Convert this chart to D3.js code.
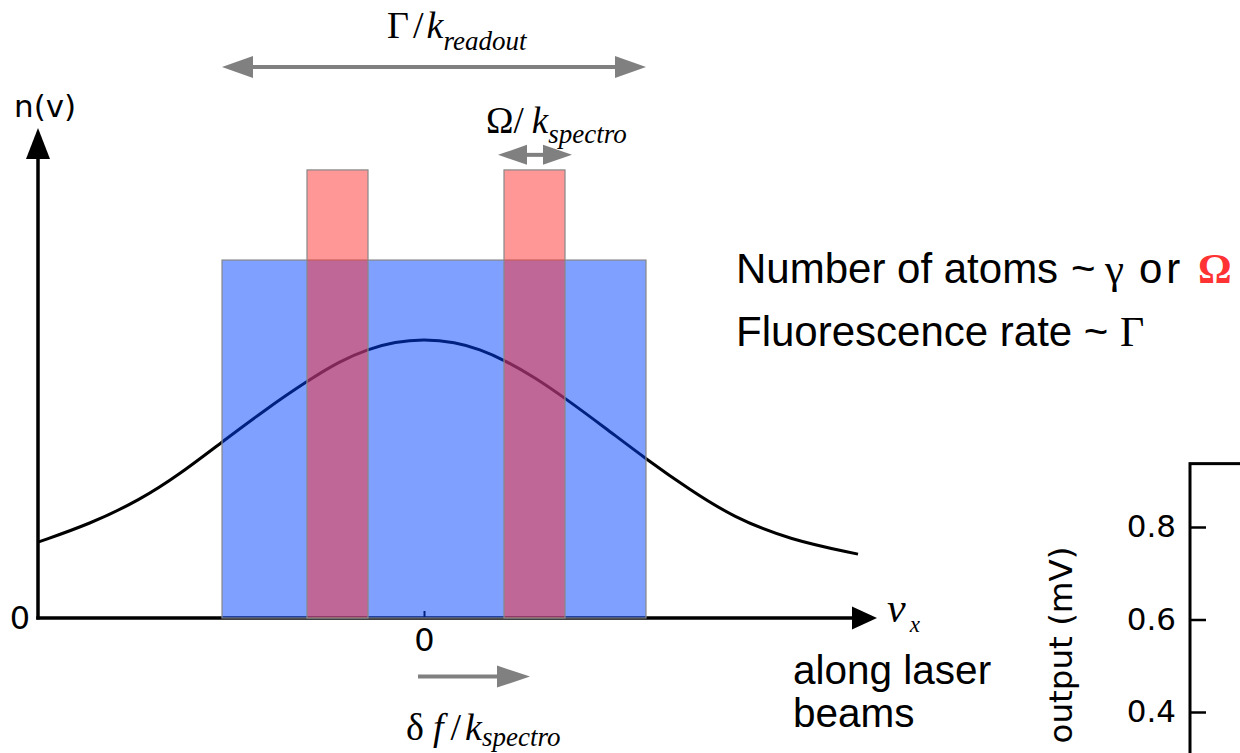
<!DOCTYPE html>
<html>
<head>
<meta charset="utf-8">
<script src="https://cdn.jsdelivr.net/npm/d3@7"></script>
<style>
  html, body { margin: 0; padding: 0; background: #fff; }
  svg { display: block; }
</style>
</head>
<body>
<svg id="chart" width="1240" height="753"></svg>
<script>
// Velocity distribution n(v) along the laser beams (v in units of 100 px, n normalised to the peak)
const velocity = [-3.86, -3.34, -2.84, -2.44, -2.02, -1.59, -1.17, -0.84, -0.56, -0.29, 0,
                  0.31, 0.56, 0.80, 1.11, 1.41, 1.81, 2.22, 2.66, 3.09, 3.66, 4.34];
const density  = [0.272, 0.337, 0.423, 0.516, 0.631, 0.746, 0.849, 0.921, 0.964, 0.990, 1.0,
                  0.989, 0.963, 0.925, 0.862, 0.788, 0.682, 0.570, 0.459, 0.362, 0.280, 0.229];

// Readout window (blue) and the two spectroscopy windows (red)
const readoutWindow = { from: -2.02, to: 2.22, height: 1.283 };
const spectroStart  = [-1.17, 0.80];
const spectroEnd    = [-0.56, 1.41];
const spectroHeight = 1.606;

// Width annotations (double arrows) and the frequency-shift arrow
const readoutArrow  = { from: -2.02, to: 2.22, level: 1.975 };
const spectroArrow  = { from: 0.74, to: 1.48, level: 1.66 };
const shiftArrow    = { from: -0.06, to: 1.06, level: -0.21 };

// Axis extents
const xAxisEnd = 4.53;
const yAxisEnd = 1.756;
const xTicks = [0];
const yTicks = [0];

// Side panel: detector output axis
const outputTicks = [0.4, 0.6, 0.8];

const svg = d3.select("#chart");
const x = d3.scaleLinear().domain([-3.86, 4.36]).range([38, 860]);
const y = d3.scaleLinear().domain([0, 1]).range([618, 339]);

const GRAY = "rgb(128,128,128)";
const SERIF = "'Liberation Serif', 'DejaVu Serif', serif";
const SANS = "'Liberation Sans', Arial, sans-serif";
const DEJAVU = "'DejaVu Sans', sans-serif";

function arrowHead(g, tipX, tipY, dx, dy, len, half, color) {
  // dx,dy: unit direction the arrow points to
  const bx = tipX - dx * len, by = tipY - dy * len;
  const px = -dy * half, py = dx * half;
  g.append("path")
    .attr("d", `M${tipX},${tipY}L${bx + px},${by + py}L${bx - px},${by - py}Z`)
    .attr("fill", color);
}

// ---- axes ----
const axes = svg.append("g");
axes.append("line")
  .attr("x1", x(-3.86)).attr("y1", y(0) + 1.5)
  .attr("x2", x(-3.86)).attr("y2", y(yAxisEnd) + 25)
  .attr("stroke", "#000").attr("stroke-width", 3.5);
arrowHead(axes, x(-3.86), y(yAxisEnd), 0, -1, 31, 12, "#000");

axes.append("line")
  .attr("x1", x(-3.86) - 1.75).attr("y1", y(0))
  .attr("x2", x(xAxisEnd) - 22).attr("y2", y(0))
  .attr("stroke", "#000").attr("stroke-width", 3.5);
arrowHead(axes, x(xAxisEnd), y(0), 1, 0, 25, 11.5, "#000");

const xAxis = d3.axisBottom(x).tickValues(xTicks).tickSizeInner(-7).tickSizeOuter(0).tickPadding(10)
  .tickFormat(d3.format("d"));
const gx = svg.append("g").attr("transform", `translate(0,${y(0)})`).call(xAxis);
gx.select(".domain").remove();
gx.selectAll(".tick line").attr("stroke", "#000").attr("stroke-width", 2);
gx.selectAll(".tick text").attr("font-family", DEJAVU).attr("font-size", 32).attr("fill", "#000");

const yAxis = d3.axisLeft(y).tickValues(yTicks).tickSize(0).tickPadding(8).tickFormat(d3.format("d"));
const gy = svg.append("g").attr("transform", `translate(${x(-3.86)},0)`).call(yAxis);
gy.select(".domain").remove();
gy.selectAll(".tick text").attr("font-family", DEJAVU).attr("font-size", 32).attr("fill", "#000");

// ---- distribution curve ----
const pts = velocity.map((v, i) => [v, density[i]]);
svg.append("path")
  .datum(pts)
  .attr("d", d3.line().x(d => x(d[0])).y(d => y(d[1])).curve(d3.curveBasis))
  .attr("fill", "none").attr("stroke", "#000").attr("stroke-width", 3);

// ---- windows ----
svg.append("rect")
  .attr("x", x(readoutWindow.from)).attr("y", y(readoutWindow.height))
  .attr("width", x(readoutWindow.to) - x(readoutWindow.from))
  .attr("height", y(0) - y(readoutWindow.height))
  .attr("fill", "#0041ff").attr("fill-opacity", 0.5)
  .attr("stroke", "#888").attr("stroke-width", 1.2);

svg.selectAll("rect.spectro")
  .data(spectroStart.map((s, i) => ({ from: s, to: spectroEnd[i] })))
  .join("rect").attr("class", "spectro")
  .attr("x", d => x(d.from)).attr("y", y(spectroHeight))
  .attr("width", d => x(d.to) - x(d.from))
  .attr("height", y(0) - y(spectroHeight))
  .attr("fill", "#ff2f2f").attr("fill-opacity", 0.5)
  .attr("stroke", "#888").attr("stroke-width", 1.2);

// ---- annotation arrows ----
function doubleArrow(a, len, half, width) {
  const g = svg.append("g");
  const yy = y(a.level), x0 = x(a.from), x1 = x(a.to);
  g.append("line").attr("x1", x0 + len - 2).attr("x2", x1 - len + 2)
    .attr("y1", yy).attr("y2", yy).attr("stroke", GRAY).attr("stroke-width", width);
  arrowHead(g, x0, yy, -1, 0, len, half, GRAY);
  arrowHead(g, x1, yy, 1, 0, len, half, GRAY);
}
doubleArrow(readoutArrow, 31, 11, 4);
doubleArrow(spectroArrow, 29, 10, 4);

{
  const g = svg.append("g");
  const yy = y(shiftArrow.level), x0 = x(shiftArrow.from), x1 = x(shiftArrow.to);
  g.append("line").attr("x1", x0).attr("x2", x1 - 31).attr("y1", yy).attr("y2", yy)
    .attr("stroke", GRAY).attr("stroke-width", 4);
  arrowHead(g, x1, yy, 1, 0, 33, 11, GRAY);
}

// ---- math labels ----
function mathLabel(px, py, parts, sub, size, subSize, subDy) {
  const t = svg.append("text").attr("x", px).attr("y", py)
    .attr("font-family", SERIF).attr("font-size", size).attr("fill", "#000");
  parts.forEach(p => {
    t.append("tspan").text(p.s).attr("dx", p.dx || 0)
      .attr("font-style", p.it ? "italic" : "normal");
  });
  t.append("tspan").text(sub).attr("font-style", "italic")
    .attr("font-size", subSize).attr("dy", subDy);
  return t;
}
mathLabel(387, 38, [{ s: "Γ" }, { s: "/", dx: 4 }, { s: "k", it: true, dx: 3 }], "readout", 38, 27, 12);
mathLabel(486, 133, [{ s: "Ω" }, { s: "/" }, { s: "k", it: true, dx: 8 }], "spectro", 37, 27, 10);
mathLabel(406, 740, [{ s: "δ" }, { s: "f", it: true, dx: 9 }, { s: "/", dx: 7 }, { s: "k", it: true, dx: 4 }],
  "spectro", 38, 27, 6);

// velocity axis label
svg.append("text").attr("x", 887).attr("y", 622)
  .attr("font-family", SERIF).attr("font-size", 42).attr("font-style", "italic")
  .call(t => {
    t.append("tspan").text("v");
    t.append("tspan").text("x").attr("font-size", 23).attr("dx", 4).attr("dy", 10);
  });

svg.append("text").attr("x", 14).attr("y", 117)
  .attr("font-family", DEJAVU).attr("font-size", 31).text("n(v)");

svg.append("text").attr("font-family", SANS).attr("font-size", 40.5).attr("fill", "#000")
  .call(t => {
    t.append("tspan").attr("x", 793).attr("y", 684).text("along laser");
    t.append("tspan").attr("x", 793).attr("y", 727).text("beams");
  });

// ---- scaling notes ----
const note1 = svg.append("text").attr("y", 283)
  .attr("font-family", SANS).attr("font-size", 42).attr("fill", "#000");
note1.append("tspan").attr("x", 736).text("Number of atoms");
note1.append("tspan").attr("x", 1071).text("~");
note1.append("tspan").attr("x", 1105).text("γ").attr("font-family", SERIF).attr("font-size", 43);
note1.append("tspan").attr("x", 1139).text("or").attr("letter-spacing", 4);
note1.append("tspan").attr("x", 1198).text("Ω").attr("font-family", SERIF).attr("font-weight", "bold")
  .attr("font-size", 42).attr("fill", "#ff3333");

const note2 = svg.append("text").attr("x", 736).attr("y", 346)
  .attr("font-family", SANS).attr("font-size", 42).attr("fill", "#000");
note2.append("tspan").text("Fluorescence rate ~ ");
note2.append("tspan").text("Γ").attr("font-family", SERIF);

// ---- detector output panel ----
const yOut = d3.scaleLinear().domain([0.4, 0.8]).range([712, 527]);
const panelLeft = 1190;
svg.append("rect")
  .attr("x", panelLeft).attr("y", yOut(0.937))
  .attr("width", 200).attr("height", 400)
  .attr("fill", "none").attr("stroke", "#000").attr("stroke-width", 3);
const outAxis = d3.axisLeft(yOut).tickValues(outputTicks).tickSizeInner(-16).tickSizeOuter(0)
  .tickPadding(14).tickFormat(d3.format(".1f"));
const go = svg.append("g").attr("transform", `translate(${panelLeft},0)`).call(outAxis);
go.select(".domain").remove();
go.selectAll(".tick line").attr("stroke", "#000").attr("stroke-width", 2.5);
go.selectAll(".tick text").attr("font-family", DEJAVU).attr("font-size", 31).attr("fill", "#000");

svg.append("text")
  .attr("transform", "translate(1072,645) rotate(-90)")
  .attr("text-anchor", "middle")
  .attr("font-family", DEJAVU).attr("font-size", 32.5).attr("fill", "#000")
  .text("output (mV)");
</script>
</body>
</html>
